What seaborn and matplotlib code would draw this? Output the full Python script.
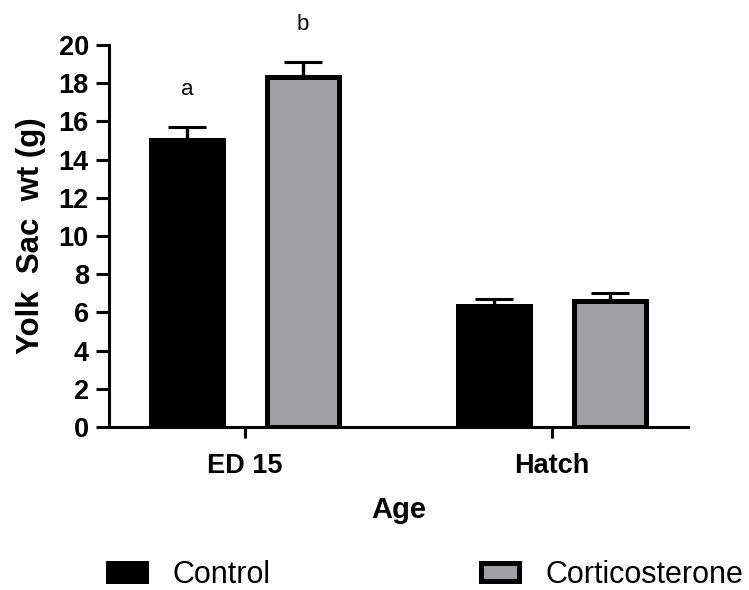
import matplotlib
matplotlib.use("Agg")
import matplotlib.pyplot as plt
import pandas as pd
import seaborn as sns

# Yolk sac weight by age and treatment (mean + SEM)
ages = ["ED 15", "Hatch"]
treatments = ["Control", "Corticosterone"]
control_mean = [15.05, 6.35]
control_sem = [0.68, 0.35]
cort_mean = [18.3, 6.6]
cort_sem = [0.83, 0.44]
control_letters = ["a", ""]
cort_letters = ["b", ""]
bar_colors = ["#000000", "#a09fa4"]
y_ticks = list(range(0, 21, 2))

df = pd.DataFrame({
    "Age": ages * 2,
    "Treatment": [treatments[0]] * len(ages) + [treatments[1]] * len(ages),
    "Weight": control_mean + cort_mean,
    "SEM": control_sem + cort_sem,
    "Letter": control_letters + cort_letters,
})

sns.set_style("ticks")
plt.rcParams["font.family"] = ["Liberation Sans", "DejaVu Sans"]
plt.rcParams.update({
    "text.color": "black",
    "axes.labelcolor": "black",
    "axes.edgecolor": "black",
    "xtick.color": "black",
    "ytick.color": "black",
})

fig = plt.figure(figsize=(7.49, 5.90), dpi=100)
ax = fig.add_axes([109 / 749, 1 - 427 / 590, (688 - 109) / 749, (427 - 45) / 590])

sns.barplot(
    data=df, x="Age", y="Weight", hue="Treatment",
    order=ages, hue_order=treatments, palette=bar_colors,
    width=0.756, gap=0.379, errorbar=None, saturation=1,
    edgecolor="black", linewidth=3.6, legend=False, ax=ax,
)

# upper-only SEM bars and significance letters on top of each bar
for container, level in zip(ax.containers, treatments):
    sub = df[df["Treatment"] == level].set_index("Age")
    for bar in container:
        xc = bar.get_x() + bar.get_width() / 2
        row = sub.loc[ages[int(round(xc))]]
        ax.errorbar(
            xc, row["Weight"], yerr=[[0], [row["SEM"]]], fmt="none",
            ecolor="black", elinewidth=2.4, capsize=13.7, capthick=2.2,
            zorder=3,
        )
        if row["Letter"]:
            ax.text(xc, row["Weight"] + row["SEM"] + 1.65, row["Letter"],
                    ha="center", va="baseline", fontsize=16, clip_on=False)

ax.set_ylim(0, 20)
ax.set_xlim(-0.443, 1.444)
ax.set_yticks(y_ticks)
ax.set_yticklabels([str(t) for t in y_ticks])

sns.despine(ax=ax)
for side in ("left", "bottom"):
    ax.spines[side].set_linewidth(2.2)
    ax.spines[side].set_color("black")
ax.tick_params(axis="y", length=9.5, width=2.2, labelsize=19.5, pad=5)
ax.tick_params(axis="x", length=8, width=2.2, labelsize=19.5, pad=11)
for lbl in ax.get_xticklabels() + ax.get_yticklabels():
    lbl.set_fontweight("bold")

ax.set_ylabel("Yolk  Sac  wt (g)", fontsize=22.5, fontweight="bold", labelpad=9)
ax.set_xlabel("Age", fontsize=21, fontweight="bold", labelpad=12)

fig.legend(
    ax.containers, treatments, loc="center left",
    bbox_to_anchor=(108 / 749, 1 - 575 / 590), ncol=2, frameon=False,
    fontsize=22, handlelength=1.25, handleheight=0.5, handletextpad=0.85,
    columnspacing=6.9, borderpad=0, borderaxespad=0,
)

fig.savefig("out.png", dpi=100)
